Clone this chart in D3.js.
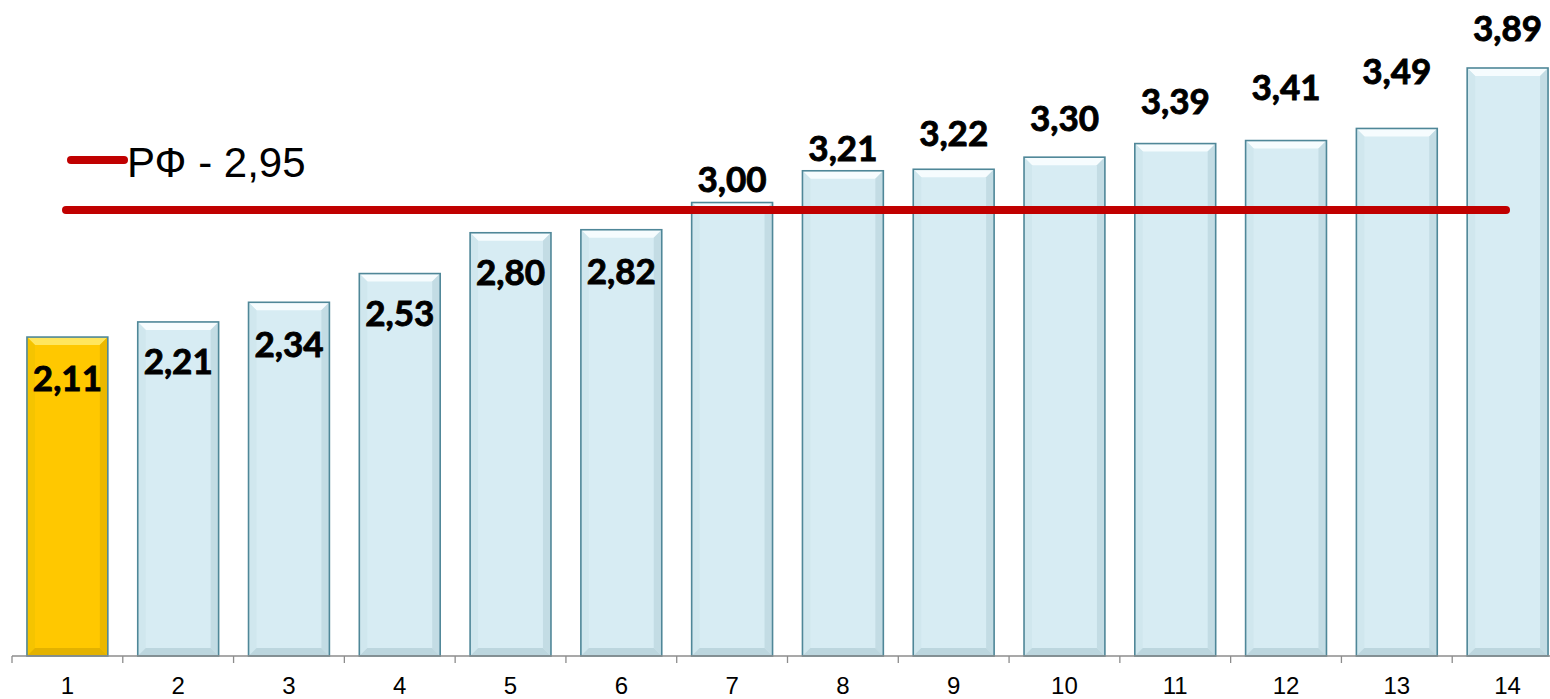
<!DOCTYPE html>
<html>
<head>
<meta charset="utf-8">
<script src="https://cdn.jsdelivr.net/npm/d3@7"></script>
<style>
  body { margin: 0; background: #fff; }
</style>
</head>
<body>
<div id="c1"></div>
<script>
// Data
var categories = ["1","2","3","4","5","6","7","8","9","10","11","12","13","14"];
var values = [2.11, 2.21, 2.34, 2.53, 2.80, 2.82, 3.00, 3.21, 3.22, 3.30, 3.39, 3.41, 3.49, 3.89];
var highlight = ["1"];
var refValue = 2.95;
var refLabel = "РФ - 2,95";

// label nudges (px, relative to bar top) -- layout only
var labelShift = [42, 40, 42, 40, 40, 42, -23, -22, -36, -38, -42, -53, -57, -39];

var w = 1550, h = 699;
var baseY = 656;

var svg = d3.select("#c1").append("svg")
    .attr("width", w)
    .attr("height", h);

var x = d3.scaleBand()
    .domain(categories)
    .range([12, 1563])
    .paddingInner(0.27)
    .paddingOuter(0.135);

var y = d3.scaleLinear()
    .domain([0, 3.89])
    .range([baseY, 68]);

var fmt = function (v) { return v.toFixed(2).replace(".", ","); };

// bars
var bars = svg.selectAll("g.bar")
    .data(values)
    .enter()
    .append("g")
    .attr("class", "bar");

bars.each(function (d, i) {
    var g = d3.select(this);
    var x0 = x(categories[i]), bw = x.bandwidth();
    var y0 = y(d), bh = baseY - y(d);
    var hl = highlight.indexOf(categories[i]) >= 0;
    var b = 8;
    g.append("rect")
        .attr("x", x0).attr("y", y0)
        .attr("width", bw).attr("height", bh)
        .attr("fill", hl ? "#ffc800" : "#d7ecf3");
    // bevel: top highlight
    g.append("path")
        .attr("d", "M" + x0 + "," + y0 + "L" + (x0 + bw) + "," + y0 +
            "L" + (x0 + bw - b) + "," + (y0 + b) + "L" + (x0 + b) + "," + (y0 + b) + "Z")
        .attr("fill", hl ? "#ffe65e" : "#f6fcfe");
    // right shade
    g.append("path")
        .attr("d", "M" + (x0 + bw) + "," + y0 + "L" + (x0 + bw) + "," + baseY +
            "L" + (x0 + bw - b) + "," + (baseY - b) + "L" + (x0 + bw - b) + "," + (y0 + b) + "Z")
        .attr("fill", hl ? "#ebb800" : "#c3dce4");
    // left shade
    g.append("path")
        .attr("d", "M" + x0 + "," + y0 + "L" + x0 + "," + baseY +
            "L" + (x0 + b) + "," + (baseY - b) + "L" + (x0 + b) + "," + (y0 + b) + "Z")
        .attr("fill", hl ? "#f5c400" : "#d0e7ee");
    // bottom shade
    g.append("path")
        .attr("d", "M" + x0 + "," + baseY + "L" + (x0 + bw) + "," + baseY +
            "L" + (x0 + bw - b) + "," + (baseY - b) + "L" + (x0 + b) + "," + (baseY - b) + "Z")
        .attr("fill", hl ? "#e3b200" : "#bcd6de");
    g.append("rect")
        .attr("x", x0).attr("y", y0)
        .attr("width", bw).attr("height", bh)
        .attr("fill", "none")
        .attr("stroke", "#4f8798")
        .attr("stroke-width", 1.6);
});

// axis
var axis = svg.append("g");
axis.append("line")
    .attr("x1", 12).attr("x2", 1550)
    .attr("y1", baseY).attr("y2", baseY)
    .attr("stroke", "#8c8c8c").attr("stroke-width", 1.3);
var step = x.step();
d3.range(categories.length + 1).forEach(function (i) {
    var tx = x(categories[0]) - x.paddingOuter() * step + i * step;
    axis.append("line")
        .attr("x1", tx).attr("x2", tx)
        .attr("y1", baseY).attr("y2", baseY + 7)
        .attr("stroke", "#8c8c8c").attr("stroke-width", 1.3);
});
axis.selectAll("text.tick")
    .data(categories)
    .enter()
    .append("text")
    .attr("class", "tick")
    .attr("x", function (d) { return x(d) + x.bandwidth() / 2; })
    .attr("y", 694)
    .attr("text-anchor", "middle")
    .style("font-family", "Arial, 'Liberation Sans', sans-serif")
    .style("font-size", "24px")
    .attr("fill", "#000")
    .text(function (d) { return d; });

// reference line
svg.append("line")
    .attr("x1", 66).attr("x2", 1506)
    .attr("y1", y(refValue)).attr("y2", y(refValue))
    .attr("stroke", "#c00000")
    .attr("stroke-width", 8)
    .attr("stroke-linecap", "round");

// legend
svg.append("line")
    .attr("x1", 71).attr("x2", 124)
    .attr("y1", 160).attr("y2", 160)
    .attr("stroke", "#c00000")
    .attr("stroke-width", 8)
    .attr("stroke-linecap", "round");
svg.append("text")
    .attr("x", 127).attr("y", 177)
    .style("font-family", "Arial, 'Liberation Sans', sans-serif")
    .style("font-size", "42px")
    .attr("fill", "#000")
    .text(refLabel);

// value labels
svg.selectAll("text.val")
    .data(values)
    .enter()
    .append("text")
    .attr("class", "val")
    .attr("x", function (d, i) { return x(categories[i]) + x.bandwidth() / 2; })
    .attr("y", function (d, i) { return y(d) + labelShift[i]; })
    .attr("dy", "0.35em")
    .attr("text-anchor", "middle")
    .style("font-family", "Lato, 'Open Sans', sans-serif")
    .style("font-weight", "bold")
    .style("font-size", "35px")
    .attr("fill", "#000")
    .attr("stroke", "#000")
    .attr("stroke-width", 0.9)
    .text(fmt);
</script>
</body>
</html>
